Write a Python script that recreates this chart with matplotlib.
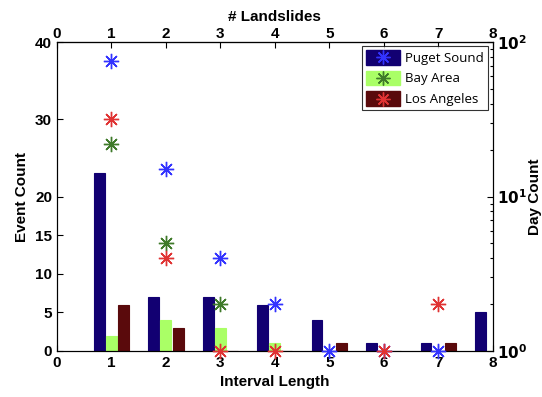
import numpy as np
import matplotlib
matplotlib.use('Agg')
import matplotlib.pyplot as plt
from matplotlib.patches import Rectangle
from matplotlib.lines import Line2D

# interval lengths / number of landslides
intervals = [1, 2, 3, 4, 5, 6, 7, 8]

# event counts (bars, left axis)
events_puget = [23, 7, 7, 6, 4, 1, 1, 5]
events_bay = [2, 4, 3, 1, 0, 0, 0, 0]
events_la = [6, 3, 0, 0, 1, 0, 1, 0]

# day counts (stars, right log axis)
day_x_puget = [1, 2, 3, 4, 5, 6, 7]
days_puget = [75, 15, 4, 2, 1, 1, 1]
day_x_bay = [1, 2, 3]
days_bay = [22, 5, 2]
day_x_la = [1, 2, 3, 4, 6, 7]
days_la = [32, 4, 1, 1, 1, 2]

series_names = ['Puget Sound', 'Bay Area', 'Los Angeles']
bar_colors = ['#120072', '#aaff66', '#5a0a0c']
star_colors = ['#3333ff', '#3f7a2a', '#e03333']
star = (8, 2, 0)


class PatchStarHandler:
    """legend entry: coloured box with the star marker drawn over it"""
    def legend_artist(self, legend, orig_handle, fontsize, handlebox):
        bc, sc = orig_handle
        x0, y0 = -handlebox.xdescent, -handlebox.ydescent
        w, h = handlebox.width, handlebox.height
        tr = handlebox.get_transform()
        rect = Rectangle((x0, y0), w, h, facecolor=bc, edgecolor=bc, transform=tr)
        m = Line2D([x0 + w / 2], [y0 + h / 2], linestyle='none', marker=star, markersize=10,
                   markeredgecolor=sc, color=sc, transform=tr)
        handlebox.add_artist(rect)
        handlebox.add_artist(m)
        return rect


plt.rcParams['font.family'] = ['Liberation Sans', 'DejaVu Sans']

fig = plt.figure(figsize=(5.42, 3.97), dpi=100)
ax = fig.add_axes([0.105, 0.116, 0.804, 0.778])

x = np.array(intervals)
w = 0.2
off = 0.225
for vals, c, d in zip([events_puget, events_bay, events_la], bar_colors, [-off, 0, off]):
    ax.bar(x + d, vals, width=w, color=c, edgecolor=c, linewidth=0.8, zorder=2)

ax.set_xlim(0, 8)
ax.set_ylim(0, 40)
ax.set_yticks([0, 5, 10, 15, 20, 30, 40])
ax.set_xticks(range(9))
ax.tick_params(direction='in', labelsize=11, width=0.8, length=4)
for lbl in ax.get_xticklabels() + ax.get_yticklabels():
    lbl.set_fontweight('bold')
ax.set_xlabel('Interval Length', fontsize=11, fontweight='bold')
ax.set_ylabel('Event Count', fontsize=11, fontweight='bold')

top = ax.secondary_xaxis('top')
top.set_xticks(range(9))
top.tick_params(direction='in', labelsize=11, width=0.8, length=4, pad=1)
for lbl in top.get_xticklabels():
    lbl.set_fontweight('bold')
top.set_xlabel('# Landslides', fontsize=11, fontweight='bold')

ax2 = ax.twinx()
ax2.set_yscale('log')
ax2.set_ylim(1, 100)
for xs, ys, c in zip([day_x_puget, day_x_bay, day_x_la], [days_puget, days_bay, days_la], star_colors):
    ax2.plot(xs, ys, linestyle='none', marker=star, markersize=11,
             markeredgecolor=c, markeredgewidth=1.0, color=c, clip_on=False, zorder=3)
ax2.set_yticks([1, 10, 100])
ax2.set_yticklabels([r'$\mathbf{10^{0}}$', r'$\mathbf{10^{1}}$', r'$\mathbf{10^{2}}$'])
ax2.tick_params(axis='y', which='both', direction='in', labelsize=11, width=0.8, pad=3)
ax2.tick_params(axis='y', which='major', length=4)
ax2.tick_params(axis='y', which='minor', length=2.5)
ax2.set_ylabel('Day Count', fontsize=11, fontweight='bold')
ax2.yaxis.set_label_coords(1.08, 0.5)

handles = list(zip(bar_colors, star_colors))
leg = ax2.legend(handles, series_names, handler_map={tuple: PatchStarHandler()},
                 loc='upper right', bbox_to_anchor=(0.995, 0.995),
                 prop={'family': 'Open Sans', 'size': 9.5}, frameon=True, fancybox=False,
                 borderpad=0.3, labelspacing=0.45, handlelength=2.6, handleheight=1.3,
                 handletextpad=0.4, borderaxespad=0.2)
leg.get_frame().set_edgecolor('black')
leg.get_frame().set_linewidth(0.8)

fig.savefig('out.png', dpi=100)
